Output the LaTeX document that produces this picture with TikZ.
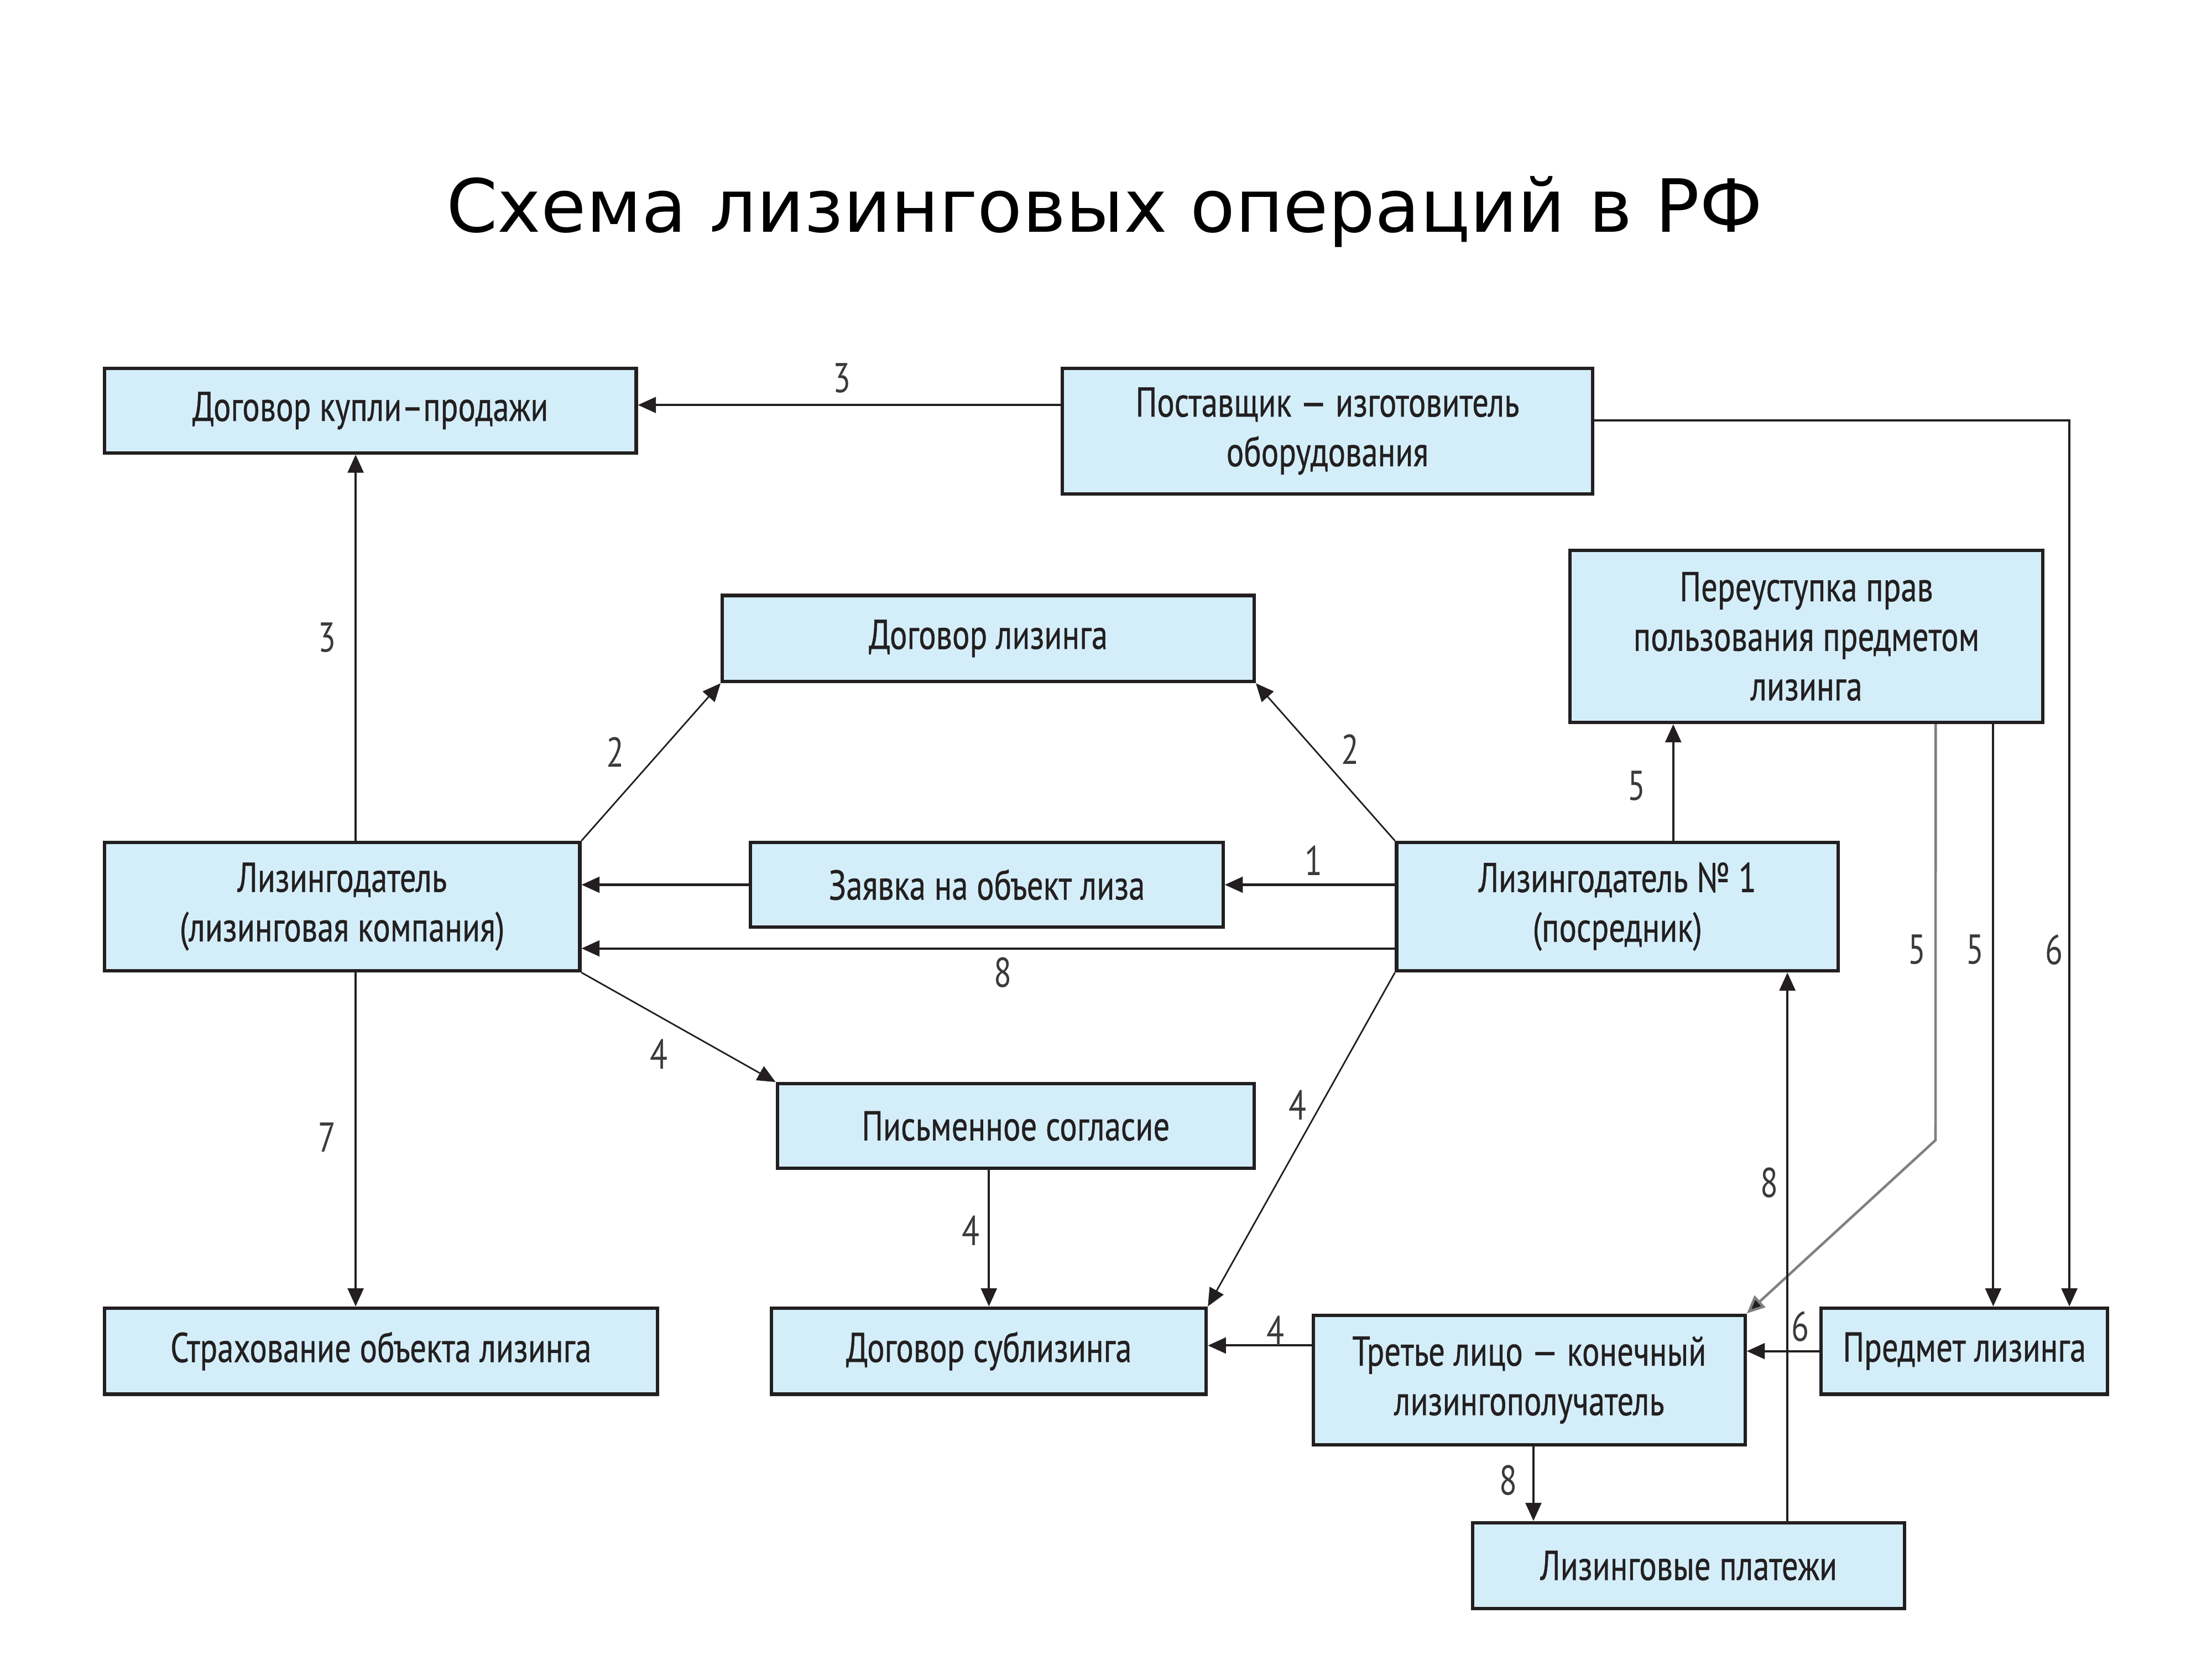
\documentclass[tikz,border=0pt]{standalone}
\usepackage{fontspec}
\usetikzlibrary{arrows.meta,calc}
\newfontfamily\titlefont{DejaVu Sans}
\newfontfamily\cond[FakeStretch=0.78,FakeBold=0.6]{PT Sans}
\newfontfamily\condn[FakeStretch=0.78]{PT Sans}
\definecolor{boxfill}{HTML}{D4EEF9}
\definecolor{ink}{HTML}{231F20}
\definecolor{lbl}{HTML}{3A3A3A}
\definecolor{grayline}{HTML}{808080}
\tikzset{
  box/.style={draw=ink, fill=boxfill, line width=0.6mm, inner sep=0pt, align=center,
    font=\cond\fontsize{21}{25}\selectfont, text=ink},
  arr/.style={draw=ink, line width=0.4mm, -{Triangle[length=3.2mm,width=2.8mm]}},
  thin/.style={draw=ink, line width=0.28mm, -{Triangle[length=3.2mm,width=2.8mm]}},
  garr/.style={draw=grayline, line width=0.45mm, -{Triangle[length=3.2mm,width=2.8mm,fill=ink]}},
  num/.style={font=\condn\fontsize{21}{25}\selectfont, text=lbl, inner sep=0pt}
}
\begin{document}
\begin{tikzpicture}[x=0.25mm,y=-0.25mm]
\useasboundingbox (0,0) rectangle (1568,1176);
\node[font=\titlefont\fontsize{37}{44}\selectfont, text=black] (title) at (783,150) {Схема лизинговых операций в РФ};

\node[box, minimum width=94.25mm, minimum height=15mm] (kup) at (262.5,291) {Договор купли–продажи};
\node[box, minimum width=94mm, minimum height=22.25mm] (post) at (941,305.5) {Поставщик — изготовитель\\оборудования};
\node[box, minimum width=83.75mm, minimum height=30.5mm] (per) at (1280.5,451) {Переуступка прав\\пользования предметом\\лизинга};
\node[box, minimum width=94.25mm, minimum height=15.25mm] (dl) at (700.5,452.5) {Договор лизинга};
\node[box, minimum width=84.25mm, minimum height=22.75mm] (lzd) at (242.5,642.5) {Лизингодатель\\(лизинговая компания)};
\node[box, minimum width=83.75mm, minimum height=15mm] (zay) at (699.5,627) {Заявка на объект лиза};
\node[box, minimum width=78.25mm, minimum height=22.75mm] (l1) at (1146.5,642.5) {Лизингодатель № 1\\(посредник)};
\node[box, minimum width=84.5mm, minimum height=15mm] (pis) at (720,798) {Письменное согласие};
\node[box, minimum width=98mm, minimum height=15.25mm] (strah) at (270,957.5) {Страхование объекта лизинга};
\node[box, minimum width=77mm, minimum height=15.25mm] (sub) at (701,957.5) {Договор сублизинга};
\node[box, minimum width=76.5mm, minimum height=23mm] (tre) at (1084,978) {Третье лицо — конечный\\лизингополучатель};
\node[box, minimum width=50.75mm, minimum height=15.25mm] (pred) at (1392.5,957.5) {Предмет лизинга};
\node[box, minimum width=76.5mm, minimum height=15.25mm] (plat) at (1197,1109.5) {Лизинговые платежи};

\coordinate (bend) at (1372,808);

\draw[arr] ([yshift=1mm]post.west |- kup.east) -- ([yshift=1mm]kup.east);
\draw[arr] ([xshift=2.4mm]lzd.north) -- ([xshift=2.4mm]lzd.north |- kup.south);
\draw[arr] ([xshift=2.4mm]lzd.south) -- ([xshift=2.4mm]lzd.south |- strah.north);
\draw[arr] ([yshift=1.9mm]post.east) -| ([xshift=18.6mm]pred.north);
\draw[thin] (lzd.north east) -- (dl.south west);
\draw[thin] (l1.north west) -- (dl.south east);
\draw[arr] (zay.east -| l1.west) -- (zay.east);
\draw[arr] (zay.west) -- (zay.west -| lzd.east);
\draw[arr] ([yshift=-7.4mm]l1.west) -- ([yshift=-7.4mm]l1.west -| lzd.east);
\draw[thin] (lzd.south east) -- (pis.north west);
\draw[thin] (l1.south west) -- (sub.north east);
\draw[arr] (sub.north |- pis.south) -- (sub.north);
\draw[arr] ([yshift=1mm]sub.east -| tre.west) -- ([yshift=1mm]sub.east);
\draw[arr] ([xshift=9.9mm]l1.north) -- ([xshift=9.9mm]l1.north |- per.south);
\draw[garr] ([xshift=22.9mm]per.south) -- (bend) -- (tre.north east);
\draw[arr] ([xshift=33.1mm]per.south) -- ([xshift=33.1mm]per.south |- pred.north);
\draw[arr] (pred.west) -- (pred.west -| tre.east);
\draw[arr] ([xshift=0.75mm]tre.south) -- ([xshift=0.75mm]tre.south |- plat.north);
\draw[arr] ([xshift=17.5mm]plat.north) -- ([xshift=17.5mm]plat.north |- l1.south);

\node[num] (n1) at (597,268) {3};
\node[num] (n2) at (232,452) {3};
\node[num] (n3) at (436,533) {2};
\node[num] (n4) at (957,531) {2};
\node[num] (n5) at (931,610) {1};
\node[num] (n6) at (711,689) {8};
\node[num] (n7) at (467,747) {4};
\node[num] (n8) at (920,783) {4};
\node[num] (n9) at (688,872) {4};
\node[num] (n10) at (232,806) {7};
\node[num] (n11) at (904,943) {4};
\node[num] (n12) at (1160,557) {5};
\node[num] (n13) at (1359,673) {5};
\node[num] (n14) at (1400,673) {5};
\node[num] (n15) at (1456,673) {6};
\node[num] (n16) at (1276,940) {6};
\node[num] (n17) at (1069,1049) {8};
\node[num] (n18) at (1254,838) {8};
\end{tikzpicture}
\end{document}
